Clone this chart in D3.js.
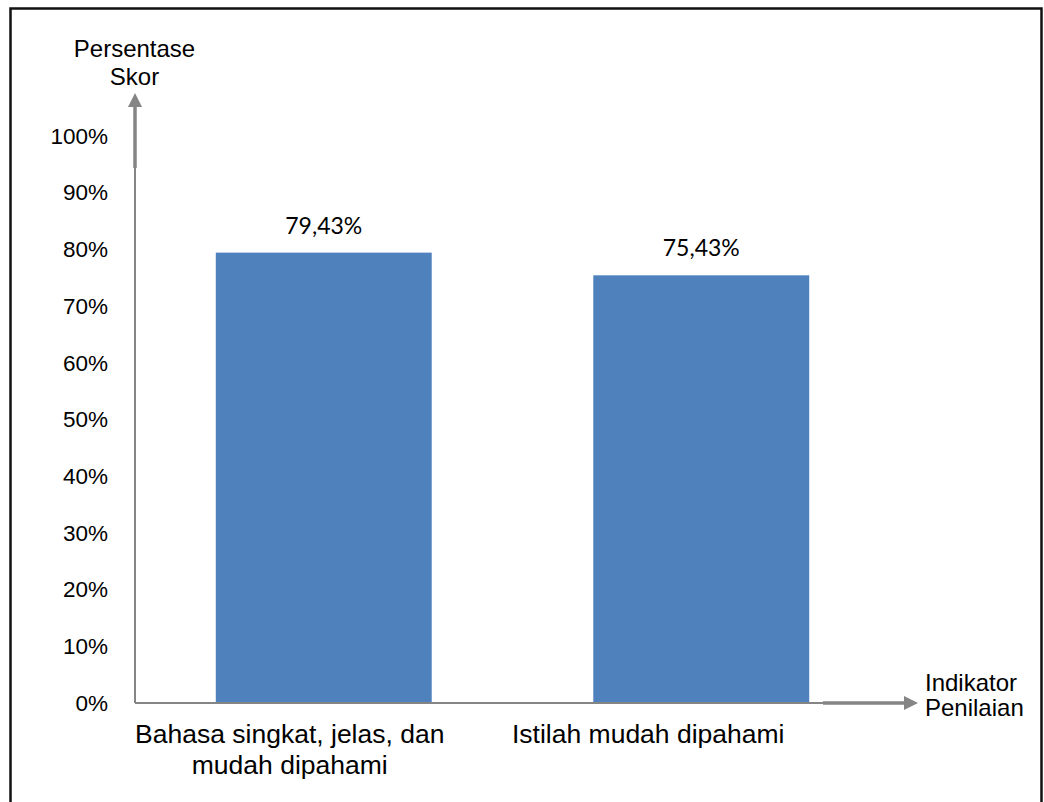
<!DOCTYPE html>
<html>
<head>
<meta charset="utf-8">
<script src="https://cdn.jsdelivr.net/npm/d3@7"></script>
<style>
  html, body { margin: 0; padding: 0; background: #fff; }
  svg { display: block; }
</style>
</head>
<body>
<svg id="chart" width="1044" height="802"></svg>
<script>
// Indicator categories and their percentage scores
const categories = ["Bahasa singkat, jelas, dan mudah dipahami", "Istilah mudah dipahami"];
const categoryLines = [["Bahasa singkat, jelas, dan", "mudah dipahami"], ["Istilah mudah dipahami"]];
const scores = [0.7943, 0.7543];
const scoreLabels = ["79,43%", "75,43%"];
const yTicks = [0, 0.1, 0.2, 0.3, 0.4, 0.5, 0.6, 0.7, 0.8, 0.9, 1.0];
const yTitle = ["Persentase", "Skor"];
const xTitle = ["Indikator", "Penilaian"];

// Layout
const W = 1044, H = 802;
const plot = { left: 135, right: 890, top: 136, bottom: 703 };
const labelShift = [-34, -53];
const axisGray = "#858585";
const barColor = "#4F81BD";
const sans = "'Liberation Sans', Arial, sans-serif";

const svg = d3.select("#chart");

// Outer frame (open at the bottom edge of the page)
svg.append("path")
  .attr("d", `M10.5,${H + 5} V8.5 H1041.5 V${H + 5}`)
  .attr("fill", "none")
  .attr("stroke", "#111")
  .attr("stroke-width", 2.5);

const x = d3.scaleBand()
  .domain(categories)
  .range([plot.left, plot.right])
  .paddingInner(0.428)
  .paddingOuter(0.214);

const y = d3.scaleLinear()
  .domain([0, 1])
  .range([plot.bottom, plot.top]);

// Y tick labels
const yAxis = d3.axisLeft(y)
  .tickValues(yTicks)
  .tickFormat(d3.format(".0%"))
  .tickSize(0)
  .tickPadding(27);

const yG = svg.append("g")
  .attr("transform", `translate(${plot.left},0)`)
  .call(yAxis);
yG.select(".domain").remove();
yG.selectAll("text")
  .attr("font-family", sans)
  .attr("font-size", 22.5)
  .attr("fill", "#000");

// Bars
svg.append("g").selectAll("rect")
  .data(scores)
  .join("rect")
  .attr("x", (d, i) => x(categories[i]))
  .attr("width", x.bandwidth())
  .attr("y", d => y(d))
  .attr("height", d => y(0) - y(d))
  .attr("fill", barColor);

// Value labels above the bars
svg.append("g").selectAll("text")
  .data(scores)
  .join("text")
  .attr("x", (d, i) => x(categories[i]) + x.bandwidth() / 2)
  .attr("y", d => y(d) - 19)
  .attr("text-anchor", "middle")
  .attr("font-family", "Lato, 'Open Sans', sans-serif")
  .attr("font-size", 23)
  .attr("fill", "#000")
  .text((d, i) => scoreLabels[i]);

// Axis lines
svg.append("line")
  .attr("x1", plot.left).attr("x2", plot.left)
  .attr("y1", y(0)).attr("y2", y(1))
  .attr("stroke", axisGray).attr("stroke-width", 2);
svg.append("line")
  .attr("x1", plot.left).attr("x2", plot.right)
  .attr("y1", y(0)).attr("y2", y(0))
  .attr("stroke", axisGray).attr("stroke-width", 2);

// Arrow marker
const defs = svg.append("defs");
defs.append("marker")
  .attr("id", "arrowHead")
  .attr("viewBox", "0 0 10 10")
  .attr("refX", 0).attr("refY", 5)
  .attr("markerUnits", "userSpaceOnUse")
  .attr("markerWidth", 14).attr("markerHeight", 15)
  .attr("orient", "auto")
  .append("path")
  .attr("d", "M0,0 L10,5 L0,10 Z")
  .attr("fill", axisGray);

// Vertical arrow
svg.append("line")
  .attr("x1", plot.left).attr("x2", plot.left)
  .attr("y1", plot.top + 32).attr("y2", plot.top - 29)
  .attr("stroke", axisGray).attr("stroke-width", 3.5)
  .attr("marker-end", "url(#arrowHead)");

// Horizontal arrow
svg.append("line")
  .attr("x1", 823).attr("x2", 904)
  .attr("y1", y(0)).attr("y2", y(0))
  .attr("stroke", axisGray).attr("stroke-width", 3.5)
  .attr("marker-end", "url(#arrowHead)");

// Category labels
categoryLines.forEach((lines, i) => {
  const cx = x(categories[i]) + x.bandwidth() / 2 + labelShift[i];
  const t = svg.append("text")
    .attr("text-anchor", "middle")
    .attr("font-family", sans)
    .attr("font-size", 26.5)
    .attr("fill", "#000");
  lines.forEach((ln, j) => {
    t.append("tspan").attr("x", cx).attr("y", 743 + j * 30.5).text(ln);
  });
});

// Axis titles
const yt = svg.append("text")
  .attr("text-anchor", "middle")
  .attr("font-family", sans)
  .attr("font-size", 24)
  .attr("fill", "#000");
yTitle.forEach((ln, j) => {
  yt.append("tspan").attr("x", plot.left - 0.5).attr("y", 57 + j * 28).text(ln);
});

const xt = svg.append("text")
  .attr("text-anchor", "start")
  .attr("font-family", sans)
  .attr("font-size", 24)
  .attr("fill", "#000");
xTitle.forEach((ln, j) => {
  xt.append("tspan").attr("x", 925).attr("y", 690.5 + j * 25).text(ln);
});
</script>
</body>
</html>
